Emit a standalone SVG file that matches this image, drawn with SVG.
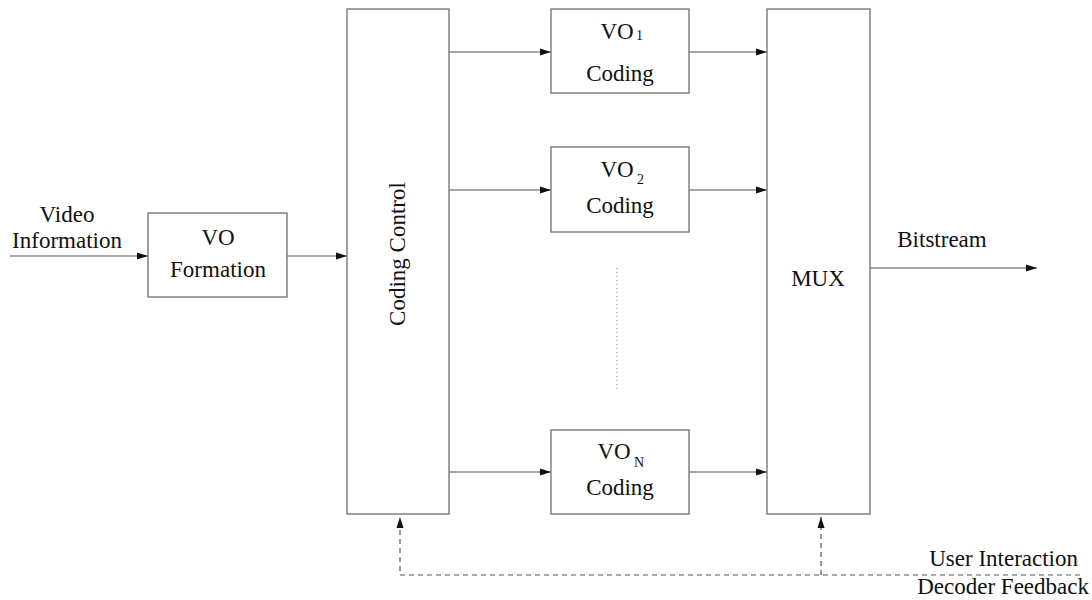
<svg xmlns="http://www.w3.org/2000/svg" width="1092" height="600" viewBox="0 0 1092 600">
<style>
.box{fill:#fff;stroke:#6e6e6e;stroke-width:1.3}
.ln{fill:none;stroke:#555;stroke-width:1.2}
.dash{fill:none;stroke:#555;stroke-width:1.2;stroke-dasharray:5,4}
.t{font-family:"Liberation Serif","Times New Roman",serif;font-size:23px;fill:#111}
.s{font-family:"Liberation Serif","Times New Roman",serif;font-size:14px;fill:#111}
</style>
<defs>
<marker id="ah" markerWidth="12" markerHeight="8" refX="11" refY="4" orient="auto" markerUnits="userSpaceOnUse">
<path d="M0,0.5 L11,4 L0,7.5 Z" fill="#111"/>
</marker>
</defs>
<rect width="1092" height="600" fill="#fff"/>
<g id="connectors">
<line class="ln" x1="10" y1="256" x2="148" y2="256" marker-end="url(#ah)"/>
<line class="ln" x1="287" y1="256" x2="347" y2="256" marker-end="url(#ah)"/>
<line class="ln" x1="449" y1="52" x2="551" y2="52" marker-end="url(#ah)"/>
<line class="ln" x1="449" y1="190" x2="551" y2="190" marker-end="url(#ah)"/>
<line class="ln" x1="449" y1="472" x2="551" y2="472" marker-end="url(#ah)"/>
<line class="ln" x1="689" y1="52" x2="767" y2="52" marker-end="url(#ah)"/>
<line class="ln" x1="689" y1="190" x2="767" y2="190" marker-end="url(#ah)"/>
<line class="ln" x1="689" y1="472" x2="767" y2="472" marker-end="url(#ah)"/>
<line class="ln" x1="870" y1="268" x2="1037" y2="268" marker-end="url(#ah)"/>
<line x1="617" y1="268" x2="617" y2="392" stroke="#777" stroke-width="1" stroke-dasharray="1,3"/>
<polyline class="dash" points="1080,575 400,575 400,517" marker-end="url(#ah)"/>
<line class="dash" x1="821" y1="575" x2="821" y2="517" marker-end="url(#ah)"/>
</g>
<g id="video-info">
<text class="t" x="67" y="222" text-anchor="middle">Video</text>
<text class="t" x="67" y="248" text-anchor="middle">Information</text>
</g>
<g id="vo-formation">
<rect class="box" x="148" y="213" width="139" height="84"/>
<text class="t" x="218" y="245" text-anchor="middle">VO</text>
<text class="t" x="218" y="277" text-anchor="middle">Formation</text>
</g>
<g id="coding-control">
<rect class="box" x="347" y="9" width="102" height="505"/>
<text class="t" transform="translate(405,254) rotate(-90)" text-anchor="middle">Coding Control</text>
</g>
<g id="vo1">
<rect class="box" x="551" y="9" width="138" height="84"/>
<text class="t" x="617" y="39" text-anchor="middle">VO</text>
<text class="s" x="636" y="40">1</text>
<text class="t" x="620" y="81" text-anchor="middle">Coding</text>
</g>
<g id="vo2">
<rect class="box" x="551" y="147" width="138" height="85"/>
<text class="t" x="617" y="177" text-anchor="middle">VO</text>
<text class="s" x="637" y="184">2</text>
<text class="t" x="620" y="213" text-anchor="middle">Coding</text>
</g>
<g id="von">
<rect class="box" x="551" y="430" width="138" height="84"/>
<text class="t" x="614" y="459" text-anchor="middle">VO</text>
<text class="s" x="634" y="467">N</text>
<text class="t" x="620" y="495" text-anchor="middle">Coding</text>
</g>
<g id="mux">
<rect class="box" x="767" y="9" width="103" height="505"/>
<text class="t" x="818" y="286" text-anchor="middle">MUX</text>
</g>
<g id="bitstream">
<text class="t" x="942" y="247" text-anchor="middle">Bitstream</text>
</g>
<g id="feedback">
<text class="t" x="1078" y="566" text-anchor="end">User Interaction</text>
<text class="t" x="1089" y="594" text-anchor="end">Decoder Feedback</text>
</g>
</svg>
